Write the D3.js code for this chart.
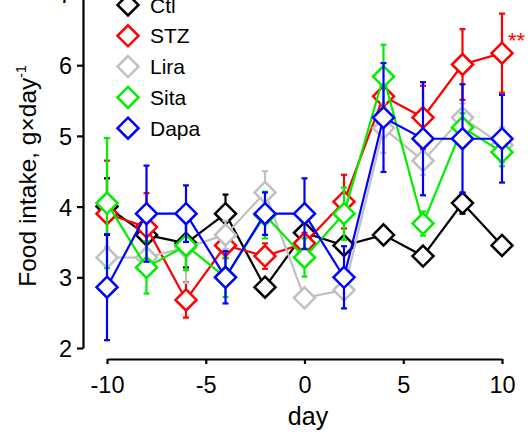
<!DOCTYPE html>
<html>
<head>
<meta charset="utf-8">
<script src="https://cdn.jsdelivr.net/npm/d3@7"></script>
<style>
  body { margin: 0; background: #fff; }
  svg { display: block; font-family: 'Liberation Sans', Arial, sans-serif; }
</style>
</head>
<body>
<div id="chart"></div>
<script>
// 日数
var days = [-10, -8, -6, -4, -2, 0, 2, 4, 6, 8, 10];

// 各群の平均値と誤差
var ctlMean = [4.0, 3.6, 3.48, 3.9, 2.86, 3.63, 3.45, 3.6, 3.3, 4.05, 3.45];
var ctlErr = [0.4, 0.22, 0.34, 0.27, 0.1, 0.15, 0.12, 0.12, 0.1, 0.15, 0.1];
var stzMean = [3.9, 3.71, 2.68, 3.45, 3.3, 3.48, 4.07, 5.56, 5.26, 6.01, 6.17];
var stzErr = [0.75, 0.48, 0.25, 0.18, 0.18, 0.15, 0.38, 0.2, 0.45, 0.5, 0.56];
var liraMean = [3.28, 3.28, 3.42, 3.6, 4.2, 2.71, 2.82, 5.11, 4.65, 5.26, 4.87];
var liraErr = [0.15, 0.12, 0.5, 0.2, 0.3, 0.12, 0.12, 0.35, 0.2, 0.2, 0.25];
var sitaMean = [4.05, 3.14, 3.45, 3.0, 3.88, 3.28, 3.9, 5.84, 3.76, 5.12, 4.77];
var sitaErr = [0.92, 0.37, 0.35, 0.28, 0.33, 0.27, 0.37, 0.45, 0.17, 0.2, 0.2];
var dapaMean = [2.86, 3.9, 3.9, 3.0, 3.9, 3.9, 3.0, 5.26, 4.96, 4.96, 4.96];
var dapaErr = [0.75, 0.68, 0.4, 0.37, 0.3, 0.5, 0.44, 0.77, 0.8, 0.77, 0.62];

var seriesNames = ['Ctl', 'STZ', 'Lira', 'Sita', 'Dapa'];
var seriesColors = ['#000000', '#ff0000', '#c0c0c0', '#00ee00', '#0000ff'];
var xTicks = [-10, -5, 0, 5, 10];
var yTicks = [2, 3, 4, 5, 6, 7];

var series = [
  { name: seriesNames[0], color: seriesColors[0], mean: ctlMean, err: ctlErr },
  { name: seriesNames[1], color: seriesColors[1], mean: stzMean, err: stzErr },
  { name: seriesNames[2], color: seriesColors[2], mean: liraMean, err: liraErr },
  { name: seriesNames[3], color: seriesColors[3], mean: sitaMean, err: sitaErr },
  { name: seriesNames[4], color: seriesColors[4], mean: dapaMean, err: dapaErr }
];

var width = 530;
var height = 434;

var x = d3.scaleLinear().domain([-10, 10]).range([107, 502]);
var y = d3.scaleLinear().domain([2, 7]).range([348, -5.5]);

// ハイフンのマイナス記号で表示する
function plainFormat(d) { return String(d); }

var svg = d3.select('#chart').append('svg')
  .attr('width', width).attr('height', height);

// 軸
var yAxisG = svg.append('g')
  .attr('transform', 'translate(83,0)')
  .call(d3.axisLeft(y).tickValues(yTicks).tickSize(6).tickSizeOuter(0).tickPadding(5).tickFormat(plainFormat));
var xAxisG = svg.append('g')
  .attr('transform', 'translate(0,359)')
  .call(d3.axisBottom(x).tickValues(xTicks).tickSize(5).tickSizeOuter(0).tickFormat(plainFormat));

[yAxisG, xAxisG].forEach(function(g) {
  g.selectAll('path, line').attr('stroke', '#000').attr('stroke-width', 2.2);
  g.selectAll('text').attr('fill', '#000').style('font-size', '23.5px')
    .style('font-family', "'Liberation Sans', Arial, sans-serif");
});
yAxisG.selectAll('text').attr('dy', '0.36em');
xAxisG.selectAll('text').attr('y', 34).attr('dy', 0);

// 軸ラベル
svg.append('text')
  .attr('x', 308).attr('y', 425)
  .attr('text-anchor', 'middle')
  .style('font-size', '25px')
  .text('day');

var yLabel = svg.append('text')
  .attr('transform', 'translate(36,176) rotate(-90)')
  .attr('text-anchor', 'middle')
  .style('font-size', '24.5px');
yLabel.append('tspan').text('Food intake, g\u00d7day');
yLabel.append('tspan').attr('dy', -10).style('font-size', '14px').text('-1');

// 描画
var line = d3.line()
  .x(function(d) { return x(d.day); })
  .y(function(d) { return y(d.v); });

var diamond = 'M0,-10.5L10.5,0L0,10.5L-10.5,0Z';

series.forEach(function(s) {
  var pts = days.map(function(d, i) {
    return { day: d, v: s.mean[i], e: s.err[i] };
  });
  var g = svg.append('g').attr('class', 'series');

  g.append('path')
    .datum(pts)
    .attr('d', line)
    .attr('fill', 'none')
    .attr('stroke', s.color)
    .attr('stroke-width', 2.2);

  var eb = g.selectAll('.eb').data(pts).enter().append('g').attr('class', 'eb');
  eb.append('line')
    .attr('x1', function(d) { return x(d.day); })
    .attr('x2', function(d) { return x(d.day); })
    .attr('y1', function(d) { return y(d.v - d.e); })
    .attr('y2', function(d) { return y(d.v + d.e); });
  eb.append('line')
    .attr('x1', function(d) { return x(d.day) - 3; })
    .attr('x2', function(d) { return x(d.day) + 3; })
    .attr('y1', function(d) { return y(d.v + d.e); })
    .attr('y2', function(d) { return y(d.v + d.e); });
  eb.append('line')
    .attr('x1', function(d) { return x(d.day) - 3; })
    .attr('x2', function(d) { return x(d.day) + 3; })
    .attr('y1', function(d) { return y(d.v - d.e); })
    .attr('y2', function(d) { return y(d.v - d.e); });
  eb.selectAll('line').attr('stroke', s.color).attr('stroke-width', 2.2);

  g.selectAll('.mk').data(pts).enter().append('path')
    .attr('class', 'mk')
    .attr('d', diamond)
    .attr('transform', function(d) { return 'translate(' + x(d.day) + ',' + y(d.v) + ')'; })
    .attr('fill', '#fff')
    .attr('stroke', s.color)
    .attr('stroke-width', 2.5);
});

// 有意差
svg.append('text')
  .attr('x', 508).attr('y', 48)
  .attr('fill', '#ff0000')
  .style('font-size', '22px')
  .text('**');

// 凡例
var legend = svg.append('g').attr('transform', 'translate(128,5)');
var items = legend.selectAll('g').data(series).enter().append('g')
  .attr('transform', function(d, i) { return 'translate(0,' + (i * 30.8) + ')'; });
items.append('path')
  .attr('d', diamond)
  .attr('fill', '#fff')
  .attr('stroke', function(d) { return d.color; })
  .attr('stroke-width', 2.5);
items.append('text')
  .attr('x', 22).attr('dy', '0.36em')
  .style('font-size', '21px')
  .text(function(d) { return d.name; });
</script>
</body>
</html>
